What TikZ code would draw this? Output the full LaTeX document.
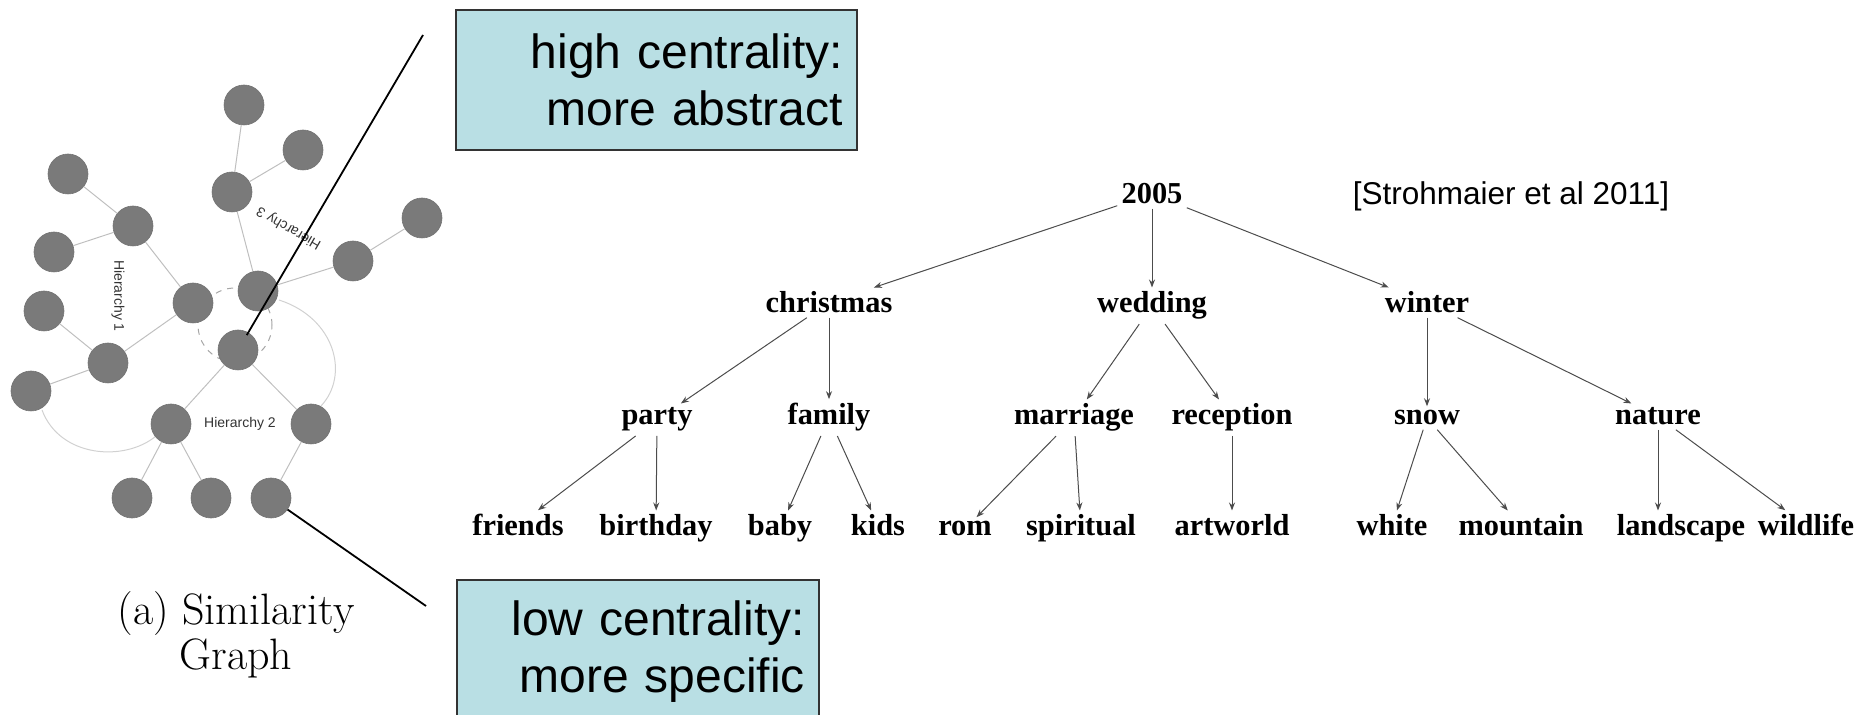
\documentclass[tikz,border=0pt]{standalone}
\usepackage{fontspec}
\usepackage{xcolor}
\usepackage{tikz}
\usetikzlibrary{arrows.meta}
\setsansfont{Liberation Sans}
\newfontfamily\treefont{Liberation Serif}
\definecolor{notecyan}{RGB}{185,223,228}
\definecolor{gnodegray}{RGB}{122,122,122}

\begin{document}
\begin{tikzpicture}[x=0.5pt, y=-0.5pt,
  gnode/.style={circle, fill=gnodegray, draw=black!55, line width=0.3pt, minimum size=20pt, inner sep=0pt},
  glink/.style={black!25, line width=0.5pt},
  hull/.style={black!18, line width=0.5pt},
  hlabel/.style={font=\sffamily\fontsize{7}{8}\selectfont, text=black!80, inner sep=0pt},
  tword/.style={font=\treefont\bfseries\fontsize{15.2}{18}\selectfont, anchor=base, inner sep=2pt},
  tedge/.style={black!70, line width=0.5pt, -{Stealth[length=4pt, width=3pt]}},
  notebox/.style={draw=black!80, line width=0.7pt, fill=notecyan, align=right, inner xsep=7pt,
    font=\sffamily\fontsize{24}{28.5}\selectfont}]
\useasboundingbox (0,0) rectangle (1857,715);

\draw[hull] (42,410) .. controls (60,458) and (125,462) .. (156,436);
\draw[hull] (279,300) .. controls (335,318) and (350,375) .. (321,406);
\draw[hull, black!35, dashed] (235,325) circle [radius=18.5pt];

\node[gnode] (h1) at (244,105) {};
\node[gnode] (h2) at (303,150) {};
\node[gnode] (h3) at (232,192) {};
\node[gnode] (h4) at (68,174) {};
\node[gnode] (h5) at (133,226) {};
\node[gnode] (h6) at (54,252) {};
\node[gnode] (h7) at (193,303) {};
\node[gnode] (h8) at (258,291) {};
\node[gnode] (h9) at (353,261) {};
\node[gnode] (h10) at (422,218) {};
\node[gnode] (h11) at (44,311) {};
\node[gnode] (h12) at (108,363) {};
\node[gnode] (h13) at (31,391) {};
\node[gnode] (hub) at (238,350) {};
\node[gnode] (h14) at (171,424) {};
\node[gnode] (h15) at (311,424) {};
\node[gnode] (h16) at (132,498) {};
\node[gnode] (h17) at (211,498) {};
\node[gnode] (leaf) at (271,498) {};

\draw[glink] (h1) -- (h3);
\draw[glink] (h2) -- (h3);
\draw[glink] (h3) -- (h8);
\draw[glink] (h8) -- (h9);
\draw[glink] (h9) -- (h10);
\draw[glink] (h4) -- (h5);
\draw[glink] (h6) -- (h5);
\draw[glink] (h5) -- (h7);
\draw[glink] (h7) -- (h12);
\draw[glink] (h11) -- (h12);
\draw[glink] (h13) -- (h12);
\draw[glink] (hub) -- (h14);
\draw[glink] (hub) -- (h15);
\draw[glink] (h14) -- (h16);
\draw[glink] (h14) -- (h17);
\draw[glink] (h15) -- (leaf);

\node[hlabel, rotate=-90] (hier1) at (118,296) {Hierarchy 1};
\node[hlabel] (hier2) at (240,424) {Hierarchy 2};
\node[hlabel, rotate=150] (hier3) at (289,228) {Hierarchy 3};

\node[align=center, font=\fontsize{22}{22.5}\selectfont] (caption) at (236,635) {(a) Similarity\\Graph};

\node[notebox, text width=186.5pt, minimum height=70pt] (high) at (656.5,80) {high centrality:\\more abstract};
\node[notebox, text width=167pt, minimum height=71.5pt] (low) at (638,651.5) {low centrality:\\more specific};

\coordinate (hiend) at (423,35);
\coordinate (loend) at (426,606);
\draw[line width=0.9pt, shorten <=-1.5pt] (hub) -- (hiend);
\draw[line width=0.9pt] (leaf) -- (loend);

\node[tword] (y2005) at (1152,204) {2005};
\node[tword] (christmas) at (829,313) {christmas};
\node[tword] (wedding) at (1152,313) {wedding};
\node[tword] (winter) at (1427,313) {winter};
\node[tword] (party) at (657,425) {party};
\node[tword] (family) at (829,425) {family};
\node[tword] (marriage) at (1074,425) {marriage};
\node[tword] (reception) at (1232,425) {reception};
\node[tword] (snow) at (1427,425) {snow};
\node[tword] (nature) at (1658,425) {nature};
\node[tword] (friends) at (518,536) {friends};
\node[tword] (birthday) at (656,536) {birthday};
\node[tword] (baby) at (780,536) {baby};
\node[tword] (kids) at (878,536) {kids};
\node[tword] (rom) at (965,536) {rom};
\node[tword] (spiritual) at (1081,536) {spiritual};
\node[tword] (artworld) at (1232,536) {artworld};
\node[tword] (white) at (1392,536) {white};
\node[tword] (mountain) at (1521,536) {mountain};
\node[tword] (landscape) at (1681,536) {landscape};
\node[tword] (wildlife) at (1806,536) {wildlife};

\draw[tedge] (y2005) -- (christmas);
\draw[tedge] (y2005) -- (wedding);
\draw[tedge] (y2005) -- (winter);
\draw[tedge] (christmas) -- (party);
\draw[tedge] (christmas) -- (family);
\draw[tedge] (wedding) -- (marriage);
\draw[tedge] (wedding) -- (reception);
\draw[tedge] (winter) -- (snow);
\draw[tedge] (winter) -- (nature);
\draw[tedge] (party) -- (friends);
\draw[tedge] (party) -- (birthday);
\draw[tedge] (family) -- (baby);
\draw[tedge] (family) -- (kids);
\draw[tedge] (marriage) -- (rom);
\draw[tedge] (marriage) -- (spiritual);
\draw[tedge] (reception) -- (artworld);
\draw[tedge] (snow) -- (white);
\draw[tedge] (snow) -- (mountain);
\draw[tedge] (nature) -- (nature |- landscape.north);
\draw[tedge] (nature) -- (wildlife);

\node[font=\sffamily\fontsize{15.75}{18}\selectfont, anchor=base] (cite) at (1511,205) {[Strohmaier et al 2011]};
\end{tikzpicture}
\end{document}
